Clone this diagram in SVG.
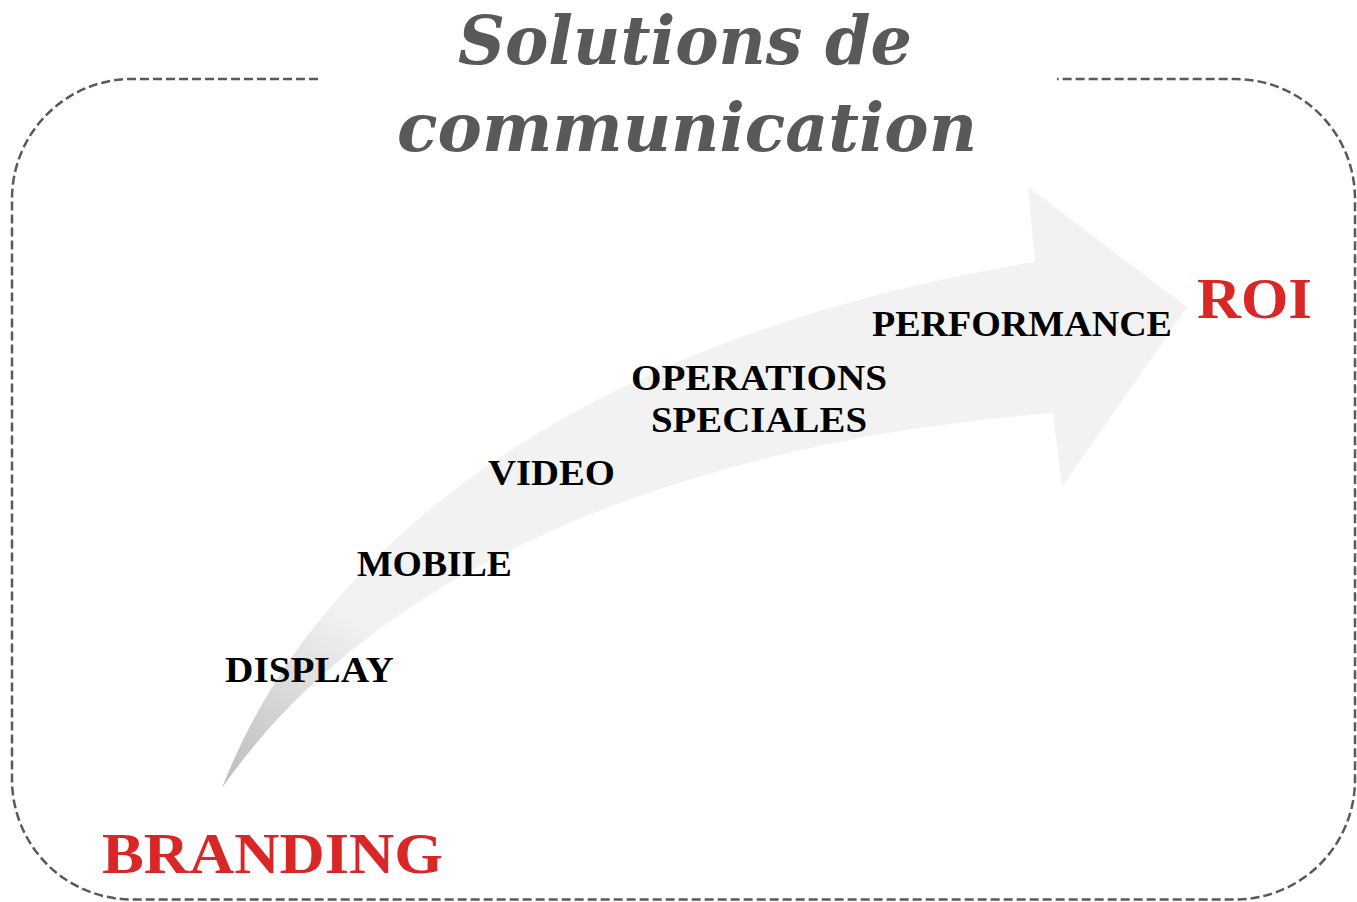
<svg xmlns="http://www.w3.org/2000/svg" width="1357" height="902" viewBox="0 0 1357 902">
  <defs>
    <linearGradient id="arrowGrad" gradientUnits="userSpaceOnUse" x1="222" y1="788" x2="340" y2="610">
      <stop offset="0" stop-color="#bcbcbc"/>
      <stop offset="1" stop-color="#f2f2f2"/>
    </linearGradient>
  </defs>
  <style>
    .frame { fill: none; stroke: #595959; stroke-width: 2.5; stroke-dasharray: 9 4; }
    .title { font-family: "DejaVu Serif", "Liberation Serif", serif; font-weight: bold; font-style: italic; font-size: 68px; fill: #595959; }
    .lbl { font-family: "Liberation Serif", "Times New Roman", serif; font-weight: bold; font-size: 36px; fill: #000000; }
    .red { font-family: "Liberation Serif", "Times New Roman", serif; font-weight: bold; font-size: 57px; fill: #d92626; }
  </style>
  <rect width="1357" height="902" fill="#ffffff"/>
  <g id="frame">
    <path class="frame" d="M318,79 H132 A120,120 0 0 0 12,199 V780 A120,120 0 0 0 132,899.5 H1235 A120,120 0 0 0 1355,780 V199 A120,120 0 0 0 1235,79 H1057"/>
  </g>
  <g id="title">
    <text class="title" x="458" y="64" textLength="454" lengthAdjust="spacingAndGlyphs">Solutions de</text>
    <text class="title" x="397" y="151" textLength="580" lengthAdjust="spacingAndGlyphs">communication</text>
  </g>
  <g id="arrow">
    <path d="M222,788 C310,560 560,340 1035,262 L1028,187 L1187,307 L1062,487 L1053,413 C700,440 380,560 222,788 Z" fill="url(#arrowGrad)"/>
  </g>
  <g id="node-display"><text class="lbl" x="225" y="682" textLength="169" lengthAdjust="spacingAndGlyphs">DISPLAY</text></g>
  <g id="node-mobile"><text class="lbl" x="357" y="576" textLength="155" lengthAdjust="spacingAndGlyphs">MOBILE</text></g>
  <g id="node-video"><text class="lbl" x="488" y="485" textLength="127" lengthAdjust="spacingAndGlyphs">VIDEO</text></g>
  <g id="node-operations">
    <text class="lbl" x="631" y="390" textLength="256" lengthAdjust="spacingAndGlyphs">OPERATIONS</text>
    <text class="lbl" x="651" y="432" textLength="216" lengthAdjust="spacingAndGlyphs">SPECIALES</text>
  </g>
  <g id="node-performance"><text class="lbl" x="872" y="336" textLength="300" lengthAdjust="spacingAndGlyphs">PERFORMANCE</text></g>
  <g id="node-roi"><text class="red" x="1197" y="318" textLength="115" lengthAdjust="spacingAndGlyphs">ROI</text></g>
  <g id="node-branding"><text class="red" x="102" y="873" textLength="341" lengthAdjust="spacingAndGlyphs">BRANDING</text></g>
  <g id="connectors"></g>
</svg>
